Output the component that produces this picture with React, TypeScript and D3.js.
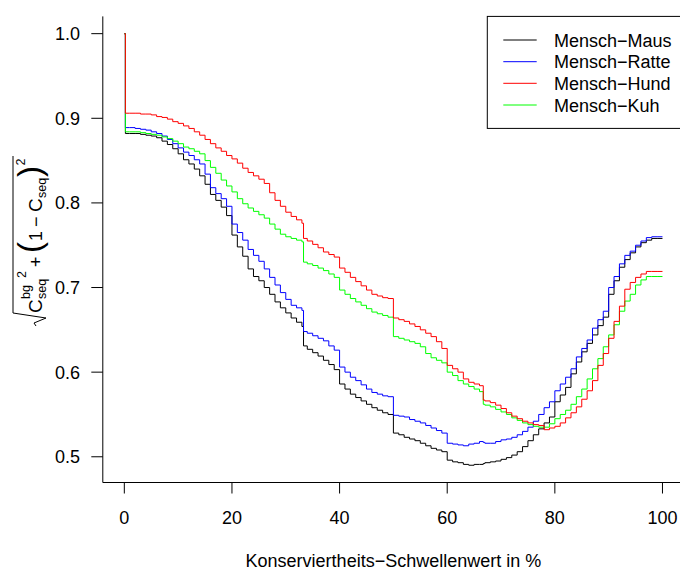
import React from "react";
import * as d3 from "d3";

const thresholds = [
  0, 0.2, 1, 2, 3, 4, 5, 6, 7, 8, 9,
  10, 11, 12, 13, 14, 15, 16, 17, 18, 19,
  20, 21, 22, 23, 24, 25, 26, 27, 28, 29,
  30, 31, 32, 33, 33.3, 34, 35, 36, 37, 38, 39,
  40, 41, 42, 43, 44, 45, 46, 47, 48, 49,
  50, 51, 52, 53, 54, 55, 56, 57, 58, 59,
  60, 61, 62, 63, 64, 65, 66, 66.7, 67, 68, 69,
  70, 71, 72, 73, 74, 75, 76, 77, 78, 79,
  80, 81, 82, 83, 84, 85, 86, 87, 88, 89,
  90, 91, 92, 93, 94, 95, 96, 97, 98, 99,
  100,
];

const maus = [
  1.0, 0.882, 0.882, 0.882, 0.881, 0.880, 0.879, 0.877, 0.873, 0.869, 0.864,
  0.858, 0.851, 0.846, 0.840, 0.832, 0.822, 0.810, 0.803, 0.795, 0.785,
  0.762, 0.748, 0.737, 0.722, 0.713, 0.708, 0.700, 0.692, 0.683, 0.676,
  0.670, 0.664, 0.659, 0.654, 0.631, 0.627, 0.623, 0.619, 0.614, 0.609, 0.603,
  0.586, 0.580, 0.574, 0.570, 0.566, 0.562, 0.558, 0.555, 0.552, 0.550,
  0.528, 0.526, 0.523, 0.521, 0.519, 0.516, 0.513, 0.510, 0.508, 0.506,
  0.496, 0.494, 0.493, 0.491, 0.490, 0.491, 0.491, 0.492, 0.493, 0.494, 0.495,
  0.497, 0.499, 0.502, 0.506, 0.512, 0.519, 0.526, 0.533, 0.540, 0.547,
  0.565, 0.573, 0.582, 0.598, 0.612, 0.624, 0.634, 0.644, 0.655, 0.665,
  0.692, 0.708, 0.724, 0.733, 0.741, 0.748, 0.753, 0.756, 0.758, 0.758,
  0.758,
];

const ratte = [
  1.0, 0.889, 0.889, 0.888, 0.887, 0.886, 0.884, 0.882, 0.879, 0.875, 0.870,
  0.865, 0.860, 0.856, 0.851, 0.846, 0.834, 0.818, 0.811, 0.805, 0.796,
  0.775, 0.765, 0.756, 0.745, 0.738, 0.731, 0.722, 0.712, 0.703, 0.694,
  0.686, 0.679, 0.676, 0.673, 0.648, 0.646, 0.643, 0.640, 0.637, 0.631, 0.626,
  0.606, 0.600, 0.594, 0.590, 0.585, 0.580, 0.576, 0.574, 0.572, 0.571,
  0.549, 0.548, 0.547, 0.544, 0.542, 0.540, 0.537, 0.534, 0.531, 0.528,
  0.516, 0.515, 0.514, 0.513, 0.515, 0.516, 0.518, 0.517, 0.516, 0.516, 0.518,
  0.520, 0.521, 0.523, 0.526, 0.530, 0.535, 0.542, 0.550, 0.558, 0.565,
  0.578, 0.586, 0.594, 0.604, 0.618, 0.628, 0.638, 0.652, 0.662, 0.672,
  0.700, 0.713, 0.728, 0.738, 0.743, 0.750, 0.755, 0.759, 0.760, 0.760,
  0.760,
];

const hund = [
  1.0, 0.906, 0.906, 0.906, 0.905, 0.905, 0.904, 0.902, 0.901, 0.899, 0.896,
  0.894, 0.891, 0.888, 0.884, 0.880, 0.875, 0.870, 0.865, 0.861, 0.856,
  0.852, 0.847, 0.841, 0.836, 0.832, 0.828, 0.823, 0.812, 0.803, 0.796,
  0.789, 0.784, 0.780, 0.776, 0.758, 0.755, 0.751, 0.747, 0.742, 0.739, 0.736,
  0.723, 0.718, 0.712, 0.707, 0.702, 0.697, 0.692, 0.690, 0.688, 0.687,
  0.664, 0.662, 0.660, 0.657, 0.654, 0.650, 0.646, 0.642, 0.636, 0.628,
  0.608, 0.604, 0.600, 0.592, 0.588, 0.586, 0.584, 0.567, 0.566, 0.564, 0.561,
  0.557, 0.552, 0.548, 0.545, 0.542, 0.540, 0.538, 0.537, 0.532, 0.534,
  0.536, 0.540, 0.546, 0.552, 0.559, 0.568, 0.578, 0.590, 0.608, 0.622,
  0.640, 0.660, 0.678, 0.698, 0.706, 0.712, 0.716, 0.719, 0.719, 0.719,
  0.719,
];

const kuh = [
  1.0, 0.884, 0.884, 0.884, 0.883, 0.882, 0.881, 0.880, 0.878, 0.876, 0.873,
  0.870, 0.866, 0.864, 0.861, 0.858, 0.850, 0.842, 0.835, 0.827, 0.820,
  0.813, 0.805, 0.799, 0.794, 0.790, 0.786, 0.782, 0.775, 0.769, 0.763,
  0.760, 0.758, 0.756, 0.754, 0.730, 0.728, 0.726, 0.723, 0.720, 0.716, 0.712,
  0.697, 0.692, 0.687, 0.683, 0.679, 0.675, 0.671, 0.669, 0.667, 0.665,
  0.642, 0.640, 0.638, 0.636, 0.634, 0.630, 0.622, 0.617, 0.614, 0.611,
  0.600, 0.596, 0.590, 0.586, 0.583, 0.580, 0.577, 0.562, 0.561, 0.559, 0.556,
  0.553, 0.550, 0.546, 0.543, 0.540, 0.538, 0.536, 0.535, 0.535, 0.539,
  0.545, 0.550, 0.555, 0.562, 0.571, 0.580, 0.592, 0.604, 0.616, 0.630,
  0.644, 0.656, 0.672, 0.684, 0.692, 0.703, 0.709, 0.713, 0.713, 0.713,
  0.713,
];

const seriesNames = ["Mensch\u2212Maus", "Mensch\u2212Ratte", "Mensch\u2212Hund", "Mensch\u2212Kuh"];
const seriesColors = ["#000000", "#0000FF", "#FF0000", "#00FF00"];
const seriesValues = [maus, ratte, hund, kuh];
const drawOrder = [0, 1, 3, 2];

const xTicks = [0, 20, 40, 60, 80, 100];
const yTicks = [0.5, 0.6, 0.7, 0.8, 0.9, 1.0];
const xTitle = "Konserviertheits\u2212Schwellenwert in %";

const W = 680;
const H = 570;
const FONT = "'Liberation Sans', Arial, Helvetica, sans-serif";
const FS = 18;

export default function App() {
  const left = 102.8;
  const right = 684;
  const top = 16.4;
  const bottom = 482.5;

  const allVals = seriesValues.flat();
  const ymin = d3.min(allVals) as number;
  const ymax = d3.max(allVals) as number;
  const yPad = (ymax - ymin) * 0.04;

  const x = d3.scaleLinear().domain([-4, 104]).range([left, right]);
  const y = d3.scaleLinear().domain([ymin - yPad, ymax + yPad]).range([bottom, top]);

  const line = d3
    .line<number>()
    .x((_, i) => x(thresholds[i]))
    .y((d) => y(d))
    .curve(d3.curveStepAfter);

  const legX = 487.3;
  const legY = top;
  const legRowY = [40, 61.7, 83.3, 105];

  const lx = 42;
  const ly = 326;
  const sfs = FS * 0.7;
  const radical = "M0,-6 L3,-8 L8,4 L13,-29 L170,-29";

  return (
    <svg
      width={W}
      height={H}
      style={{ position: "absolute", left: 0, top: 0, background: "#fff" }}
      fontFamily={FONT}
    >
      <rect x={0} y={0} width={W} height={H} fill="#fff" />
      {drawOrder.map((si) => (
        <path
          key={si}
          d={line(seriesValues[si]) || ""}
          fill="none"
          stroke={seriesColors[si]}
          strokeWidth={1}
        />
      ))}
      <path d={`M${left},${top} L${left},${bottom} L${right},${bottom}`} fill="none" stroke="#000" strokeWidth={1} />
      {xTicks.map((t) => (
        <g key={t}>
          <line x1={x(t)} x2={x(t)} y1={bottom} y2={bottom + 11} stroke="#000" />
          <text x={x(t)} y={523.5} textAnchor="middle" fontSize={FS}>
            {t}
          </text>
        </g>
      ))}
      {yTicks.map((t) => (
        <g key={t}>
          <line x1={left} x2={left - 11.5} y1={y(t)} y2={y(t)} stroke="#000" />
          <text x={80} y={y(t) + 6.5} textAnchor="end" fontSize={FS}>
            {t.toFixed(1)}
          </text>
        </g>
      ))}
      <text x={(left + right) / 2} y={567} textAnchor="middle" fontSize={FS}>
        {xTitle}
      </text>
      <g transform={`translate(${lx},${ly}) rotate(-90)`}>
        <path d={radical} fill="none" stroke="#000" strokeWidth={1} />
        <text x={13} y={0} fontSize={FS + 1}>C</text>
        <text x={27} y={-12} fontSize={sfs}>bg</text>
        <text x={27} y={4} fontSize={sfs}>seq</text>
        <text x={48} y={-16} fontSize={sfs}>2</text>
        <text x={59} y={0} fontSize={FS}>+</text>
        <text x={73} y={-1} fontSize={33}>(</text>
        <text x={85} y={0} fontSize={FS}>1</text>
        <text x={99} y={0} fontSize={FS}>{"\u2212"}</text>
        <text x={114} y={0} fontSize={FS + 1}>C</text>
        <text x={128} y={4} fontSize={sfs}>seq</text>
        <text x={149} y={-1} fontSize={33}>)</text>
        <text x={160.5} y={-17} fontSize={sfs}>2</text>
      </g>
      <rect x={legX} y={legY} width={right - legX} height={112} fill="#fff" stroke="#000" strokeWidth={1} />
      {seriesNames.map((name, i) => (
        <g key={name}>
          <line x1={503.3} x2={536.7} y1={legRowY[i]} y2={legRowY[i]} stroke={seriesColors[i]} strokeWidth={1} />
          <text x={554} y={legRowY[i] + 6.5} fontSize={FS}>
            {name}
          </text>
        </g>
      ))}
    </svg>
  );
}
